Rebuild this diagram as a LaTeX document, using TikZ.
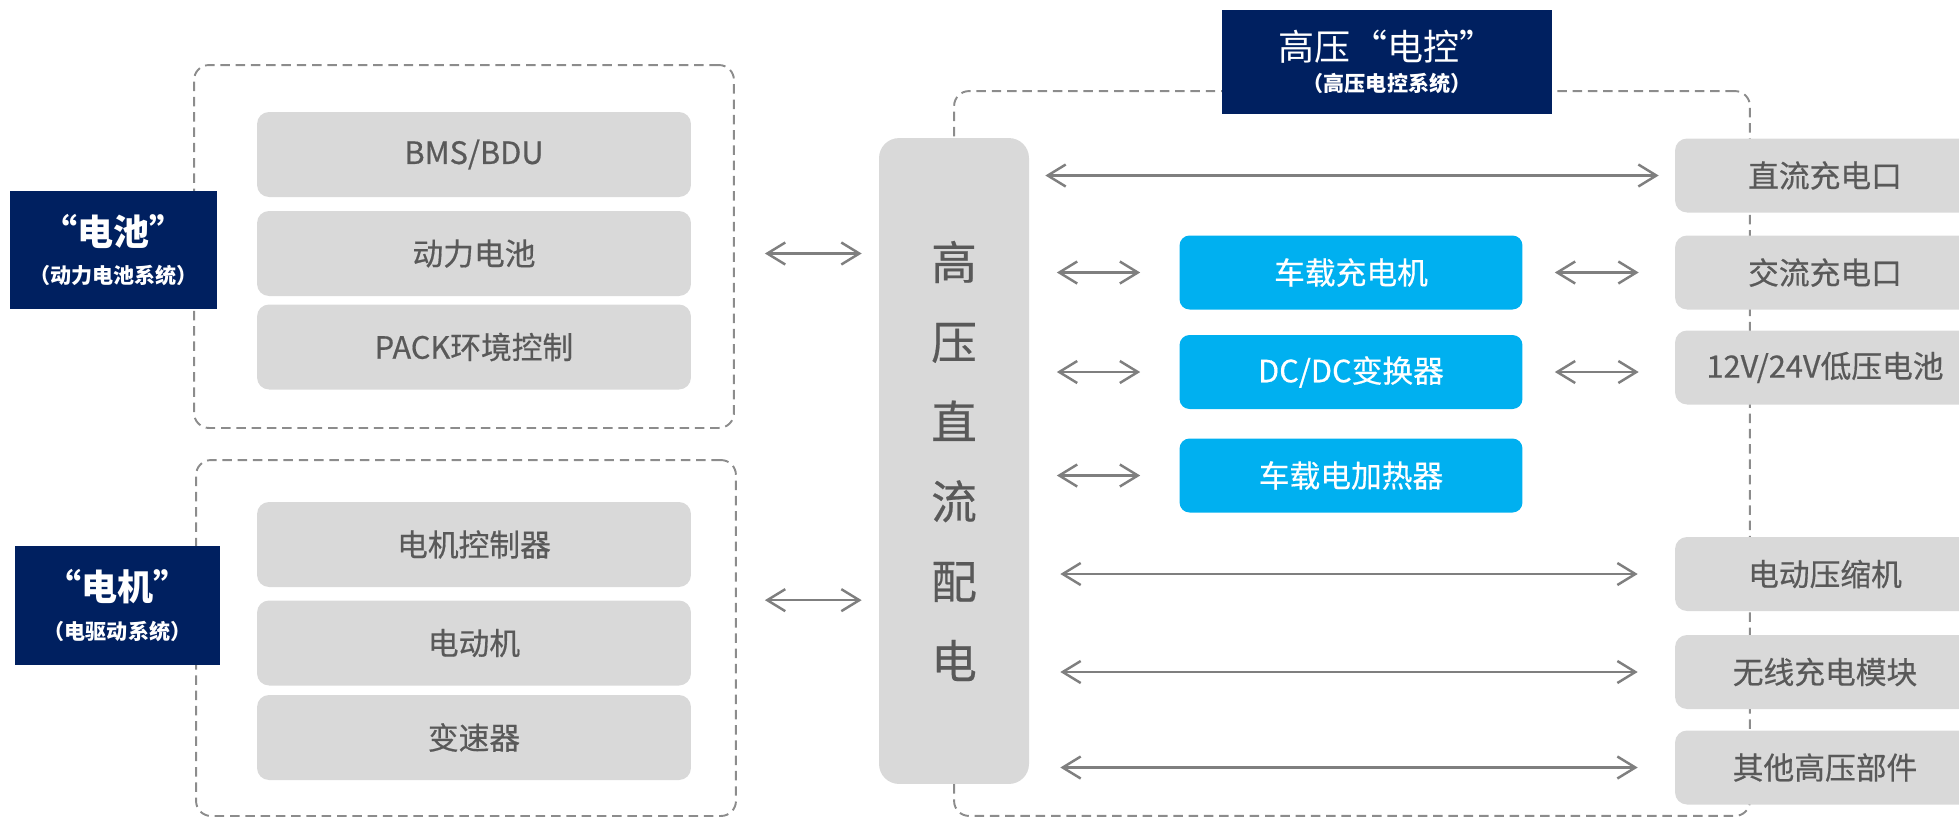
\documentclass[tikz,border=0pt]{standalone}
\usepackage{fontspec}
\setmainfont{Noto Sans CJK SC}
\newfontfamily\medfont{Noto Sans CJK SC}[FakeBold=0.5]
\usetikzlibrary{arrows.meta}

\definecolor{navy}{HTML}{002060}
\definecolor{sky}{HTML}{00B0F0}
\definecolor{boxgray}{HTML}{D9D9D9}
\definecolor{txtgray}{HTML}{595959}
\definecolor{linegray}{HTML}{7F7F7F}
\definecolor{dashgray}{HTML}{8C8C8C}

\begin{document}
\begin{tikzpicture}[ x=0.02cm, y=-0.02cm,
        >={Straight Barb[length=3.6mm,width=4.4mm]},
        group/.style={ draw=dashgray, line width=1.1pt, dash pattern=on 5.4pt off 3.3pt,
          rounded corners=0.3cm },
        cell/.style={ fill=boxgray, rounded corners=0.24cm, minimum width=8.68cm,
          minimum height=1.7cm, text=txtgray, font=\medfont\fontsize{17.5}{21}\selectfont },
        tag/.style={ fill=navy, text=white, align=center,
          font=\bfseries\fontsize{20.5}{24}\selectfont },
        unit/.style={ fill=sky, rounded corners=0.2cm, minimum width=6.86cm,
          minimum height=1.48cm, text=white, font=\medfont\fontsize{17.5}{21}\selectfont },
        port/.style={ fill=boxgray, rounded corners=0.24cm, minimum width=6cm,
          minimum height=1.48cm, text=txtgray, font=\medfont\fontsize{17.5}{21}\selectfont },
        link/.style={ <->, draw=linegray, line width=1.4pt } ]
        \useasboundingbox (0,0) rectangle (1959,819);

        % dashed system frames
        \node[group,minimum width=10.8cm,minimum height=7.26cm] (battgrp) at (464,246.5) {};
        \node[group,minimum width=10.8cm,minimum height=7.12cm] (motgrp) at (466,638) {};
        \node[group,minimum width=15.92cm,minimum height=14.5cm] (hvgrp) at (1352,453.5) {};

        \foreach \y/\l [count=\i] in {154.5/{BMS/BDU},253.5/动力电池,347/PACK环境控制}
        \node[cell] (bat\i) at (474,\y) {\l};

        \foreach \y/\l [count=\i] in {544.5/电机控制器,643/电动机,737.5/变速器}
        \node[cell] (mot\i) at (474,\y) {\l};

        \node[tag,minimum width=4.14cm,minimum height=2.36cm] (battag) at (113.5,250)
        {“电池”\\[-2pt]{\fontsize{12}{14}\selectfont （动力电池系统）}};
        \node[tag,minimum width=4.1cm,minimum height=2.38cm] (mottag) at (117.5,605.5)
        {“电机”\\[-2pt]{\fontsize{12}{14}\selectfont （电驱动系统）}};
        \node[tag,minimum width=6.6cm,minimum height=2.08cm] (hvtag) at (1387,62)
        {\mdseries 高压“电控”\\[-6pt]{\fontsize{12}{14}\selectfont\bfseries （高压电控系统）}};

        \node[fill=boxgray,rounded corners=0.4cm,minimum width=3cm,minimum height=12.92cm,
          text=txtgray,align=center,font=\medfont\fontsize{26}{45.4}\selectfont] (hv) at (954,461)
        {高\\压\\直\\流\\配\\电};

        \foreach \y/\l [count=\i] in {272.5/车载充电机,372/{DC/DC变换器},475.5/车载电加热器}
        \node[unit] (conv\i) at (1351,\y) {\l};

        \foreach \y/\l [count=\i] in {175.5/直流充电口,272.5/交流充电口,367.5/{12V/24V低压电池},
          574/电动压缩机,672/无线充电模块,767.5/其他高压部件}
        \node[port] (port\i) at (1825,\y) {\l};

        \draw[link,shorten <=0.6cm,shorten >=0.34cm] (battgrp.east |- bat2) -- (hv.west |- bat2);
        \draw[link,shorten <=0.56cm,shorten >=0.34cm] (motgrp.east |- mot2.north) -- (hv.west |- mot2.north);
        \draw[link,shorten <=0.32cm,shorten >=0.32cm] (hv.east |- port1) -- (port1);
        \foreach \i in {1,2,3}
        \draw[link,shorten <=0.55cm,shorten >=0.78cm] (hv.east |- conv\i) -- (conv\i);
        \draw[link,shorten <=0.64cm,shorten >=0.72cm] (conv1.east) -- (conv1 -| port2.west);
        \draw[link,shorten <=0.64cm,shorten >=0.72cm] (conv2.east) -- (conv2 -| port3.west);
        \foreach \i in {4,5,6}
        \draw[link,shorten <=0.62cm,shorten >=0.74cm] (hv.east |- port\i) -- (port\i);
      \end{tikzpicture}
\end{document}
